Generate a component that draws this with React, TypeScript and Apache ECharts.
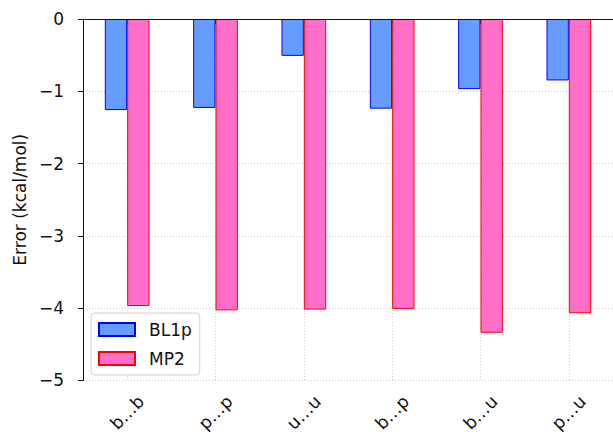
import React, { useEffect, useRef } from "react";
import * as echarts from "echarts";

const categories = ["b…b", "p…p", "u…u", "b…p", "b…u", "p…u"];
const bl1pValues = [-1.26, -1.23, -0.51, -1.24, -0.97, -0.85];
const mp2Values = [-3.97, -4.03, -4.02, -4.01, -4.34, -4.07];
const seriesNames = ["BL1p", "MP2"];
const yTicks = [-5, -4, -3, -2, -1, 0];

const FONT = "DejaVu Sans";

export default function App() {
  const ref = useRef<HTMLDivElement>(null);
  useEffect(() => {
    document.body.style.margin = "0";
    const chart = echarts.init(ref.current!, null, { renderer: "svg" });
    const fmt = (v: number) => (v < 0 ? "\u2212" + Math.abs(v) : String(v));
    chart.setOption({
      animation: false,
      textStyle: { fontFamily: FONT },
      grid: { left: 83, top: 19, width: 536.4, height: 362, containLabel: false },
      legend: {
        data: seriesNames,
        orient: "vertical",
        left: 91,
        top: 313,
        icon: "rect",
        itemWidth: 36,
        itemHeight: 13,
        itemGap: 12,
        padding: [8, 8, 8, 7],
        borderColor: "#d0d0d0",
        borderWidth: 1,
        borderRadius: 4,
        backgroundColor: "rgba(255,255,255,0.8)",
        textStyle: { fontFamily: FONT, fontSize: 17, color: "#111", padding: [0, 0, 0, 9] },
      },
      xAxis: [
        {
          type: "category",
          data: categories,
          position: "bottom",
          axisLine: { show: true, lineStyle: { color: "#111", width: 1 } },
          axisTick: { show: true, alignWithLabel: true, length: 5, lineStyle: { color: "#111" } },
          axisLabel: {
            rotate: 45,
            align: "center",
            verticalAlign: "middle",
            margin: 32,
            fontFamily: FONT,
            fontSize: 17.5,
            color: "#111",
          },
          splitLine: {
            show: true,
            alignWithLabel: true,
            lineStyle: { color: "#cccccc", type: [1, 2], width: 1 },
          },
        },
        {
          type: "category",
          data: categories,
          position: "top",
          z: 5,
          axisLine: { show: true, onZero: false, lineStyle: { color: "#111", width: 1 } },
          axisTick: { show: false },
          axisLabel: { show: false },
          splitLine: { show: false },
        },
      ],
      yAxis: {
        type: "value",
        min: yTicks[0],
        max: yTicks[yTicks.length - 1],
        interval: 1,
        name: "Error (kcal/mol)",
        nameLocation: "middle",
        nameGap: 55,
        nameTextStyle: { fontFamily: FONT, fontSize: 17, color: "#111" },
        axisLine: { show: true, lineStyle: { color: "#111", width: 1 } },
        axisTick: { show: true, length: 5, lineStyle: { color: "#111" } },
        axisLabel: { formatter: fmt, fontFamily: FONT, fontSize: 17, color: "#111", margin: 19 },
        splitLine: { show: true, lineStyle: { color: "#cccccc", type: [1, 2], width: 1 } },
      },
      series: [
        {
          name: seriesNames[0],
          type: "bar",
          data: bl1pValues,
          barWidth: 22.35,
          barGap: "0%",
          itemStyle: { color: "#669cff", borderColor: "#0000ff", borderWidth: 1 },
        },
        {
          name: seriesNames[1],
          type: "bar",
          data: mp2Values,
          barWidth: 22.35,
          barGap: "0%",
          itemStyle: { color: "#ff6ec7", borderColor: "#ff0000", borderWidth: 1 },
        },
      ],
    });
    return () => chart.dispose();
  }, []);
  return <div ref={ref} style={{ width: 613, height: 435 }} />;
}
